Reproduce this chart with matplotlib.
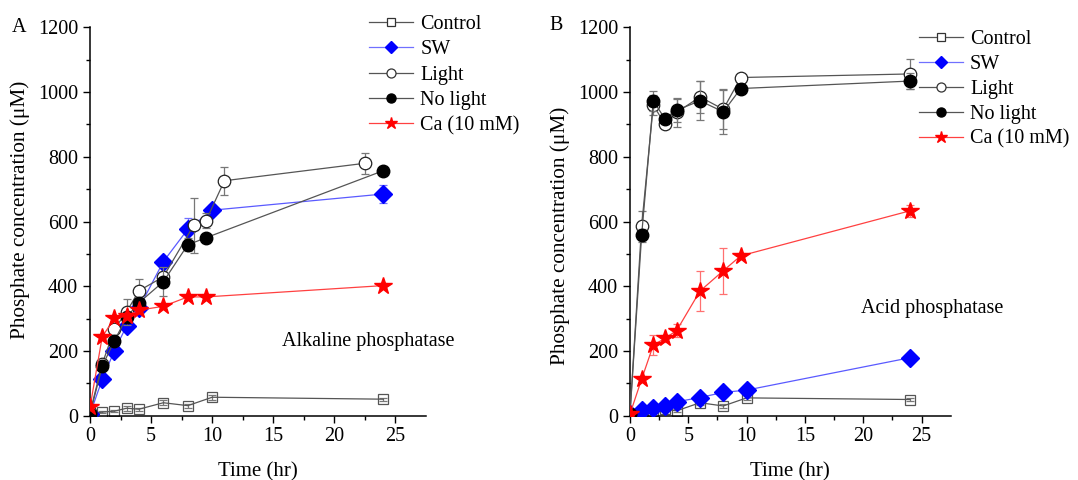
import numpy as np
import matplotlib
matplotlib.use("Agg")
import matplotlib.pyplot as plt
from matplotlib.lines import Line2D

plt.rcParams['font.family'] = ['Liberation Serif', 'DejaVu Serif']
plt.rcParams['font.size'] = 14.5

# ---- panel A: alkaline phosphatase ----
t_ctrl_a = [0, 1, 2, 3, 4, 6, 8, 10, 24]
ctrl_a = [5, 11, 14, 23, 20, 40, 31, 57, 51]
ctrl_a_err = [2, 3, 4, 8, 5, 8, 6, 8, 5]

t_sw_a = [0, 1, 2, 3, 4, 6, 8, 10, 24]
sw_a = [5, 112, 201, 278, 332, 476, 576, 635, 685]
sw_a_err = [2, 8, 8, 10, 10, 12, 35, 15, 28]

t_light_a = [0, 1, 2, 3, 4, 6, 8.5, 9.5, 11, 22.5]
light_a = [10, 160, 268, 321, 386, 429, 589, 603, 726, 780]
light_a_err = [3, 10, 12, 40, 35, 15, 85, 22, 44, 32]

t_dark_a = [0, 1, 2, 3, 4, 6, 8, 9.5, 24]
dark_a = [5, 153, 232, 304, 349, 414, 528, 550, 757]
dark_a_err = [2, 10, 10, 10, 12, 45, 20, 10, 10]

t_ca_a = [0, 1, 2, 3, 4, 6, 8, 9.5, 24]
ca_a = [26, 244, 301, 308, 326, 338, 367, 367, 402]
ca_a_err = [3, 8, 8, 8, 8, 8, 8, 8, 8]

# ---- panel B: acid phosphatase ----
t_ctrl_b = [0, 1, 2, 3, 4, 6, 8, 10, 24]
ctrl_b = [5, 8, 13, 20, 15, 40, 30, 55, 50]
ctrl_b_err = [2, 3, 4, 6, 5, 8, 6, 8, 5]

t_sw_b = [0, 1, 2, 3, 4, 6, 8, 10, 24]
sw_b = [5, 17, 23, 31, 43, 56, 72, 79, 179]
sw_b_err = [2, 3, 3, 4, 4, 5, 5, 6, 8]

t_light_b = [0, 1, 2, 3, 4, 6, 8, 9.5, 24]
light_b = [5, 587, 960, 900, 937, 985, 947, 1045, 1056]
light_b_err = [2, 45, 30, 10, 45, 50, 60, 10, 45]

t_dark_b = [0, 1, 2, 3, 4, 6, 8, 9.5, 24]
dark_b = [5, 558, 973, 917, 944, 973, 939, 1011, 1034]
dark_b_err = [2, 20, 30, 10, 35, 60, 70, 10, 25]

t_ca_b = [0, 1, 2, 3, 4, 6, 8, 9.5, 24]
ca_b = [5, 113, 218, 239, 263, 385, 448, 494, 633]
ca_b_err = [2, 10, 30, 10, 20, 63, 71, 10, 18]

labels = ['Control', 'SW', 'Light', 'No light', 'Ca (10 mM)']

grey = '#555555'
ebgrey = '#777777'


def draw_panel(ax, data):
    (tc, c, ce), (ts, s, se), (tl, l, le), (td, d, de), (tca, ca, cae) = data
    ax.errorbar(tc, c, yerr=ce, color=grey, lw=0.9, marker='s', ms=7,
                mfc='none', mec=grey, mew=0.9, ecolor=ebgrey, elinewidth=0.9,
                capsize=3, capthick=0.9, zorder=2)
    ax.errorbar(ts, s, yerr=se, color='#5a5aff', lw=0.9, marker='D', ms=9,
                mfc='#0000ff', mec='#0000ff', ecolor='#6f6fff', elinewidth=0.9,
                capsize=3, capthick=0.9, zorder=3)
    ax.errorbar(tl, l, yerr=le, color=grey, lw=0.9, marker='o', ms=9,
                mfc='white', mec='#222222', mew=0.9, ecolor=ebgrey, elinewidth=0.9,
                capsize=3, capthick=0.9, zorder=4)
    ax.errorbar(td, d, yerr=de, color=grey, lw=0.9, marker='o', ms=9,
                mfc='black', mec='black', ecolor=ebgrey, elinewidth=0.9,
                capsize=3, capthick=0.9, zorder=5)
    ax.errorbar(tca, ca, yerr=cae, color='#ff4040', lw=0.9, marker='*', ms=13,
                mfc='red', mec='red', ecolor='#ff7070', elinewidth=0.9,
                capsize=3, capthick=0.9, zorder=6)

    ax.set_xlim(0, 27.5)
    ax.set_ylim(0, 1200)
    ax.set_xticks([0, 5, 10, 15, 20, 25])
    ax.set_xticks(np.arange(2.5, 27.5, 5), minor=True)
    ax.set_yticks(np.arange(0, 1201, 200))
    ax.set_yticks(np.arange(100, 1200, 200), minor=True)
    ax.tick_params(which='major', direction='out', length=5, width=1)
    ax.tick_params(which='minor', direction='out', length=3, width=1)
    ax.spines['top'].set_visible(False)
    ax.spines['right'].set_visible(False)
    for sp in ('left', 'bottom'):
        ax.spines[sp].set_linewidth(1.1)
    ax.set_xlabel('Time (hr)', fontsize=15)
    ax.set_ylabel('Phosphate concentration (\u03bcM)', fontsize=15.3)


def legend_handles():
    return [
        Line2D([], [], color=grey, lw=0.9, marker='s', ms=6, mfc='white', mec='#333333', mew=0.9),
        Line2D([], [], color='#7070ff', lw=0.9, marker='D', ms=6, mfc='#0000ff', mec='#0000ff'),
        Line2D([], [], color=grey, lw=0.9, marker='o', ms=6.5, mfc='white', mec='#333333', mew=0.9),
        Line2D([], [], color=grey, lw=0.9, marker='o', ms=6.5, mfc='black', mec='black'),
        Line2D([], [], color='#ff4040', lw=0.9, marker='*', ms=9, mfc='red', mec='red'),
    ]


fig = plt.figure(figsize=(10.78, 4.8), dpi=100)
axA = fig.add_axes([0.0835, 0.134, 0.3117, 0.809])
axB = fig.add_axes([0.5844, 0.134, 0.2975, 0.809])

draw_panel(axA, [(t_ctrl_a, ctrl_a, ctrl_a_err), (t_sw_a, sw_a, sw_a_err),
                 (t_light_a, light_a, light_a_err), (t_dark_a, dark_a, dark_a_err),
                 (t_ca_a, ca_a, ca_a_err)])
draw_panel(axB, [(t_ctrl_b, ctrl_b, ctrl_b_err), (t_sw_b, sw_b, sw_b_err),
                 (t_light_b, light_b, light_b_err), (t_dark_b, dark_b, dark_b_err),
                 (t_ca_b, ca_b, ca_b_err)])

axA.yaxis.set_label_coords(-0.179, 0.53)
axB.yaxis.set_label_coords(-0.187, 0.463)
axA.xaxis.set_label_coords(0.5, -0.119)
axB.xaxis.set_label_coords(0.5, -0.119)

axA.text(15.7, 229, 'Alkaline phosphatase', ha='left', va='center')
axB.text(19.8, 330, 'Acid phosphatase', ha='left', va='center')

fig.text(12 / 1078, 1 - 27 / 480, 'A', ha='left', va='center')
fig.text(549 / 1078, 1 - 26 / 480, 'B', ha='left', va='center')

legA = axA.legend(legend_handles(), labels, loc='upper left', frameon=False,
                  bbox_to_anchor=(0.83, 1.032), borderaxespad=0, borderpad=0,
                  handlelength=2.2, handletextpad=0.35, labelspacing=0.31)
legB = axB.legend(legend_handles(), labels, loc='upper left', frameon=False,
                  bbox_to_anchor=(0.9, 0.994), borderaxespad=0, borderpad=0,
                  handlelength=2.2, handletextpad=0.35, labelspacing=0.29)

fig.savefig('out.png', dpi=100)
